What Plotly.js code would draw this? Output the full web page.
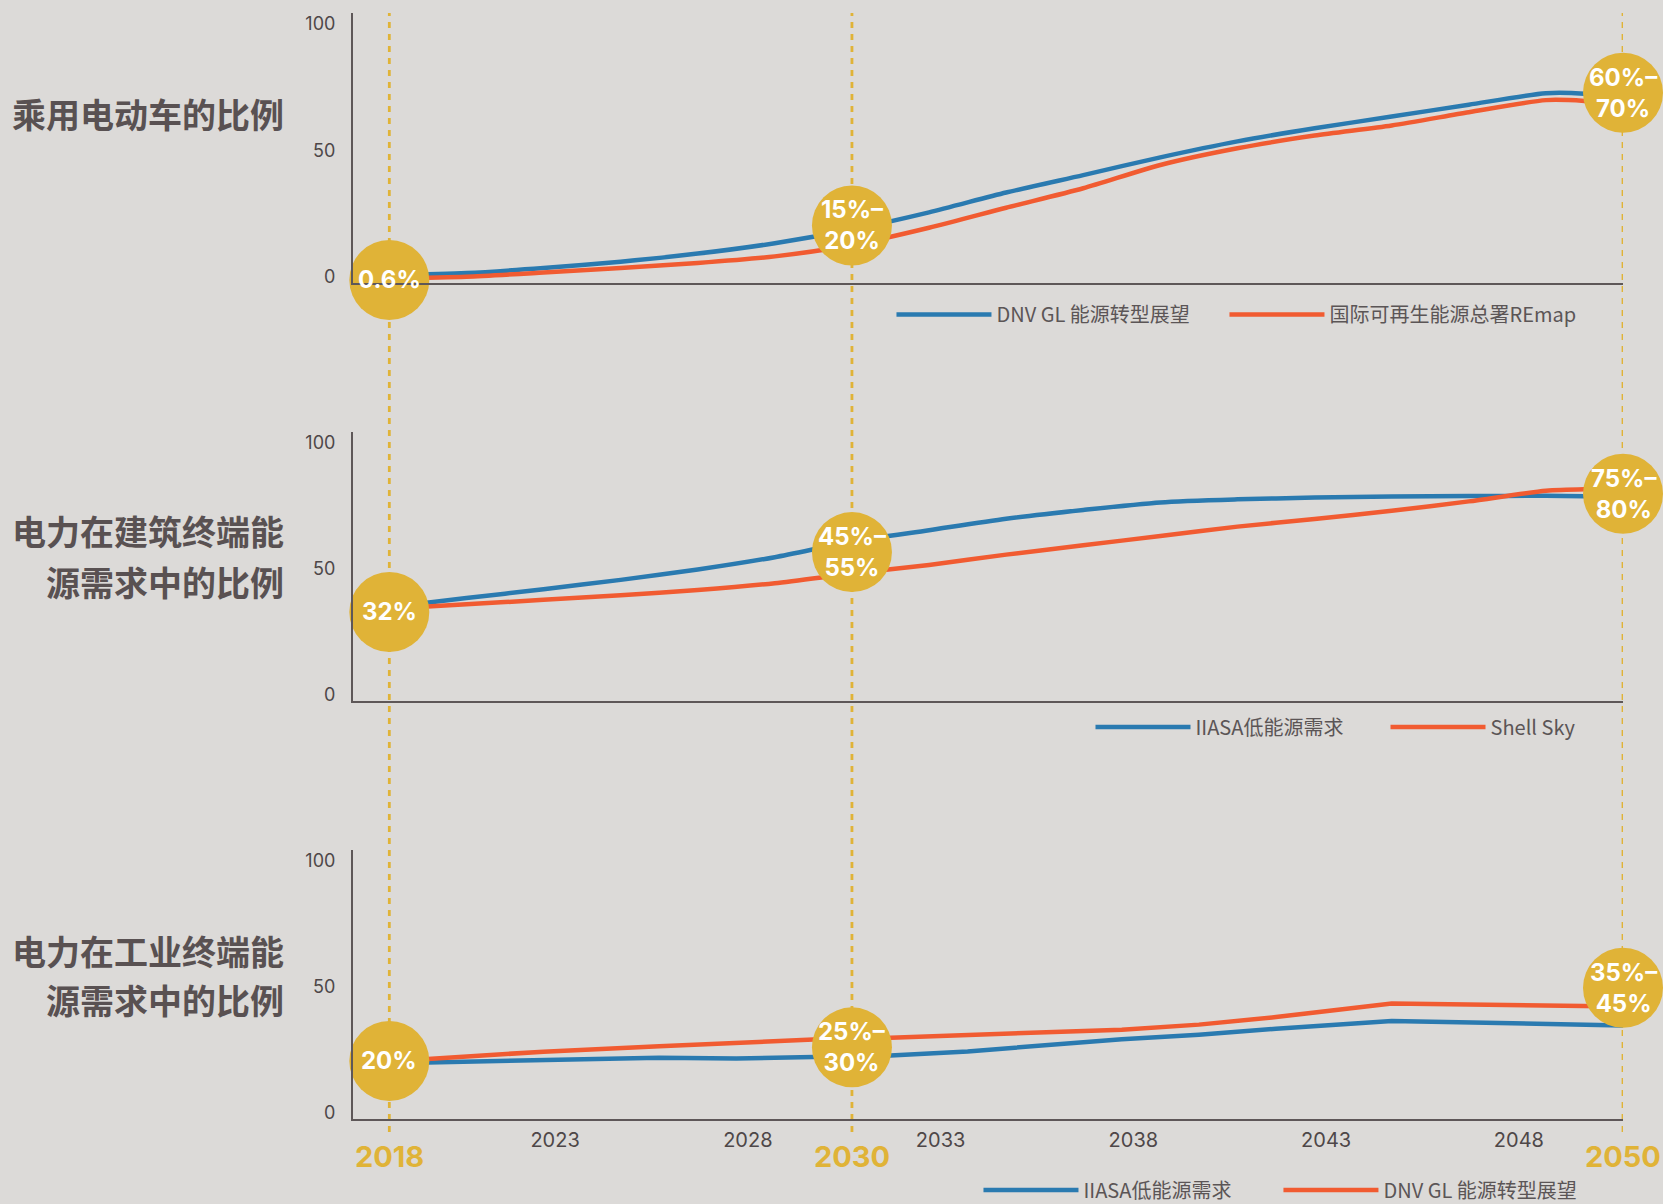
<!DOCTYPE html>
<html>
<head>
<meta charset="utf-8">
<script src="https://cdn.plot.ly/plotly-3.0.1.min.js"></script>
<style>
html, body { margin: 0; padding: 0; background: #dcdad8; }
#chart { width: 1663px; height: 1204px; }
</style>
</head>
<body>
<div id="chart"></div>
<script>
// ---------------- DATA ----------------
const milestoneYears = [2018, 2030, 2050];
const axisTickYears = [2023, 2028, 2033, 2038, 2043, 2048];
const yTickValues = [0, 50, 100];

// Panel 1: share of EVs in passenger cars
const evTitle = ["乘用电动车的比例"];
const evYears = [2018, 2020, 2022, 2024, 2026, 2028, 2030, 2032, 2034, 2036, 2038, 2040, 2042, 2044, 2046, 2048, 2049, 2050];
const evDnv   = [0.6, 1.5, 3.5, 6.0, 9.2, 13.3, 18.7, 25.5, 33.3, 40.2, 47.2, 53.5, 58.7, 63.3, 68.0, 72.5, 72.3, 70.5];
const evIrena = [-0.5, 0.1, 1.7, 3.5, 5.5, 8.1, 12.6, 19.4, 27.3, 35.0, 44.2, 50.8, 55.8, 59.8, 65.0, 69.8, 69.5, 68.0];
const evNames = ["DNV GL 能源转型展望", "国际可再生能源总署REmap"];
const evBubbleLevel = [-1.2, 20.3, 72.7];
const evBubbleText = ["0.6%", "15%–<br>20%", "60%–<br>70%"];

// Panel 2: electricity share in buildings final energy demand
const bldTitle = ["电力在建筑终端能", "源需求中的比例"];
const bldYears = [2018, 2020, 2022, 2024, 2026, 2028, 2030, 2032, 2034, 2036, 2038, 2040, 2042, 2044, 2046, 2048, 2049, 2050];
const bldIiasa = [34.8, 38.4, 41.9, 45.6, 49.7, 54.6, 60.8, 65.3, 69.8, 73.3, 76.3, 77.5, 78.2, 78.6, 78.8, 78.9, 78.7, 78.5];
const bldShell = [34.2, 35.9, 37.7, 39.5, 41.6, 44.3, 48.1, 51.5, 55.6, 59.3, 63.0, 66.7, 69.7, 73.0, 76.7, 80.9, 81.5, 81.5];
const bldNames = ["IIASA低能源需求", "Shell Sky"];
const bldBubbleLevel = [32.9, 56.6, 79.7];
const bldBubbleText = ["32%", "45%–<br>55%", "75%–<br>80%"];

// Panel 3: electricity share in industry final energy demand
const indTitle = ["电力在工业终端能", "源需求中的比例"];
const indYears = [2019, 2022, 2025, 2027, 2029, 2031, 2033, 2035, 2037, 2039, 2041, 2044, 2047, 2050];
const indIiasa = [20.0, 20.8, 21.9, 21.6, 22.0, 22.8, 24.4, 26.7, 29.2, 31.0, 33.4, 36.4, 35.6, 34.7];
const indDnv   = [21.4, 24.3, 26.4, 27.9, 29.1, 29.8, 30.9, 32.0, 33.0, 35.0, 38.0, 43.4, 42.7, 42.2];
const indNames = ["IIASA低能源需求", "DNV GL 能源转型展望"];
const indBubbleLevel = [20.6, 26.0, 49.6];
const indBubbleText = ["20%", "25%–<br>30%", "35%–<br>45%"];

// ---------------- STYLE ----------------
const BG = "#dcdad8";
const GOLD = "#e0b337";
const BLUE = "#2a7ab0";
const ORANGE = "#f15b31";
const AXIS = "#5e5758";
const TICK = "#4e4748";
const TITLE = "#595152";
const LEGTXT = "#5b5556";
const NUMFONT = "Inter, 'Noto Sans', sans-serif";
const CJKFONT = "'Noto Sans CJK SC', 'Noto Sans', sans-serif";

const X_RANGE = [2017.058, 2050];
const Y_RANGE = [-2.4, 104.2];

const panels = [
  {xa: "x",  ya: "y",  xk: "xaxis",  yk: "yaxis",  legs: ["legend", "legend2"], dom: [0.7559, 1.0],
   years: evYears, s1: evDnv, s2: evIrena, names: evNames, level: evBubbleLevel, btxt: evBubbleText,
   title: evTitle, titleY: [0.9087], shape: "spline",
   legX: [0.4240, 0.6862], legY: 0.7274},
  {xa: "x2", ya: "y2", xk: "xaxis2", yk: "yaxis2", legs: ["legend3", "legend4"], dom: [0.3779, 0.6212],
   years: bldYears, s1: bldIiasa, s2: bldShell, names: bldNames, level: bldBubbleLevel, btxt: bldBubbleText,
   title: bldTitle, titleY: [0.5319, 0.4864], shape: "spline",
   legX: [0.5807, 0.8130], legY: 0.3544},
  {xa: "x3", ya: "y3", xk: "xaxis3", yk: "yaxis3", legs: ["legend5", "legend6"], dom: [0.0, 0.2432],
   years: indYears, s1: indIiasa, s2: indDnv, names: indNames, level: indBubbleLevel, btxt: indBubbleText,
   title: indTitle, titleY: [0.1519, 0.1076], shape: "linear",
   legX: [0.4925, 0.7287], legY: -0.0642}
];

const traces = [];
const annotations = [];
const shapes = [];
const layout = {
  width: 1663, height: 1204,
  margin: {l: 353, r: 40, t: 13, b: 85, autoexpand: false},
  paper_bgcolor: BG, plot_bgcolor: "rgba(0,0,0,0)",
  showlegend: true,
  hovermode: false
};

panels.forEach((p, i) => {
  const series = [p.s1, p.s2];
  const colors = [BLUE, ORANGE];
  series.forEach((s, k) => {
    traces.push({
      type: "scatter", mode: "lines", x: p.years, y: s, name: p.names[k],
      xaxis: p.xa, yaxis: p.ya, legend: p.legs[k],
      line: {color: colors[k], width: 4.5, shape: p.shape, smoothing: 0.7}, hoverinfo: "skip"
    });
    layout[p.legs[k]] = {
      orientation: "h", x: p.legX[k], xanchor: "left", y: p.legY, yanchor: "middle",
      bgcolor: "rgba(0,0,0,0)", borderwidth: 0,
      font: {family: CJKFONT, size: 20, color: LEGTXT},
      itemwidth: 95
    };
  });
  traces.push({
    type: "scatter", mode: "markers", x: milestoneYears, y: p.level,
    xaxis: p.xa, yaxis: p.ya, showlegend: false, cliponaxis: false,
    marker: {size: 80, color: GOLD, line: {width: 0}}, hoverinfo: "skip"
  });

  layout[p.xk] = {
    domain: [0, 1], range: X_RANGE, anchor: p.ya,
    showline: true, linecolor: AXIS, linewidth: 2,
    showgrid: false, zeroline: false, ticks: "",
    showticklabels: i === 2,
    tickvals: axisTickYears, ticktext: axisTickYears.map(String),
    tickfont: {family: NUMFONT, size: 20, color: TICK},
    ticklabelshift: -27, ticklabelstandoff: 2,
    fixedrange: true
  };
  layout[p.yk] = {
    domain: p.dom, range: Y_RANGE, anchor: p.xa,
    showline: true, linecolor: AXIS, linewidth: 2,
    showgrid: false, zeroline: false, ticks: "",
    tickvals: yTickValues, ticktext: yTickValues.map(String),
    tickfont: {family: NUMFONT, size: 18, color: TICK},
    ticklabelstandoff: 12,
    fixedrange: true
  };

  // bubble labels
  milestoneYears.forEach((yr, k) => {
    annotations.push({
      xref: p.xa, yref: p.ya, x: yr, y: p.level[k], text: p.btxt[k],
      showarrow: false, xanchor: "center", yanchor: "middle",
      font: {family: NUMFONT, size: 24, color: "#ffffff", weight: 700}
    });
  });

  // panel titles
  p.title.forEach((t, j) => {
    annotations.push({
      xref: "paper", yref: "paper", x: -0.0528, y: p.titleY[j], text: t,
      showarrow: false, xanchor: "right", yanchor: "middle",
      font: {family: CJKFONT, size: 34, color: TITLE, weight: 700}
    });
  });
});

// milestone dashed guides & bold year labels
milestoneYears.forEach(yr => {
  shapes.push({
    type: "line", xref: "x", yref: "paper", x0: yr, x1: yr, y0: -0.0118, y1: 1.0,
    line: {color: GOLD, width: 2.8, dash: "6px,6px"}, layer: "below"
  });
  annotations.push({
    xref: "x3", yref: "paper", x: yr, y: -0.0335, text: String(yr),
    showarrow: false, xanchor: "center", yanchor: "middle",
    font: {family: NUMFONT, size: 29, color: GOLD, weight: 700}
  });
});

layout.annotations = annotations;
layout.shapes = shapes;

Plotly.newPlot("chart", traces, layout, {displayModeBar: false, staticPlot: true});
</script>
</body>
</html>
